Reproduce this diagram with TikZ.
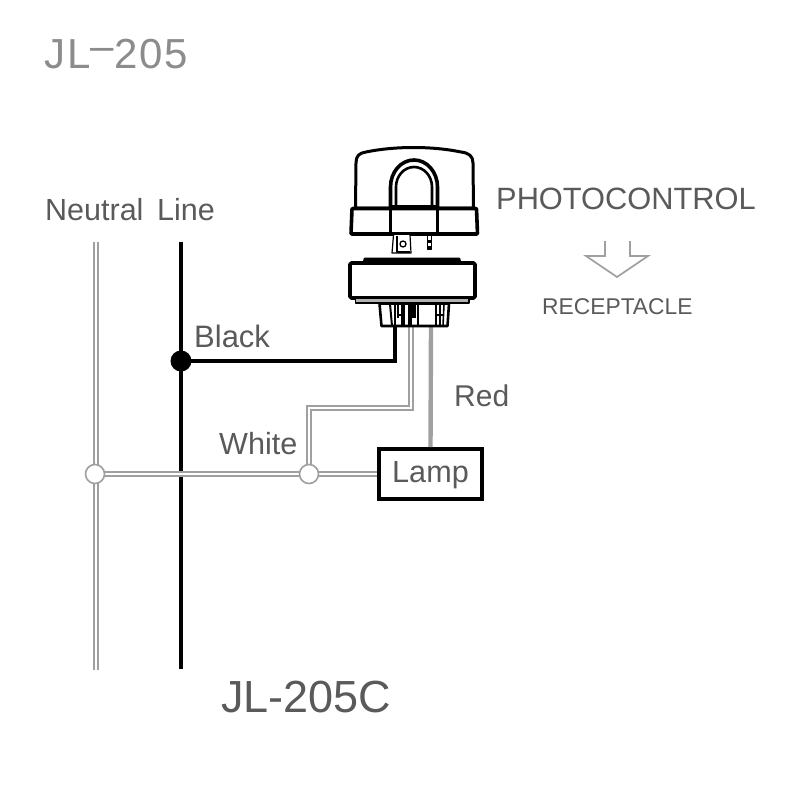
\documentclass[tikz,border=0pt]{standalone}
\usepackage{fontspec}
\setmainfont{Liberation Sans}
\newfontfamily\spaced[LetterSpace=5]{Liberation Sans}
\definecolor{txt}{HTML}{5A5A5A}
\definecolor{wire}{HTML}{A0A0A0}
\definecolor{ttl}{HTML}{8C8C8C}
\tikzset{
 lab/.style={anchor=base west,inner sep=0pt,text=txt,font=\fontsize{#1}{#1}\selectfont},
 blk/.style={draw=black,line width=#1,line join=round},
 blk/.default=3pt,
 fillw/.style={blk=#1,fill=white},
 gnode/.style={circle,draw=wire,fill=white,line width=1.6pt,minimum size=19pt,inner sep=0pt},
 bnode/.style={circle,fill=black,minimum size=21pt,inner sep=0pt},
 lampbox/.style={draw=black,line width=4pt,fill=white,minimum width=103pt,minimum height=50pt,inner sep=0pt,text=txt,font=\fontsize{30.6}{30.6}\selectfont},
}
% double wire: grey stroke with white core
\newcommand{\dblwire}[1]{\draw[wire,line width=6pt,line join=miter] #1; \draw[white,line width=2.4pt,line join=miter] #1;}
\begin{document}
\begin{tikzpicture}[x=1pt,y=-1pt]
\useasboundingbox (0,0) rectangle (800,800);
\fill[white] (0,0) rectangle (800,800);

% named points
\coordinate (nTop) at (96,242);
\coordinate (nBot) at (96,670);
\coordinate (lTop) at (181,242);
\coordinate (lBot) at (181,669);
\coordinate (blackEnd) at (395,326);
\coordinate (whiteEnd) at (411,326);
\coordinate (redEnd) at (431,326);
\coordinate (wBendA) at (411,408);
\coordinate (wBendB) at (309,408);

% neutral / line
\dblwire{(nTop) -- (nBot)}
\draw[black,line width=4pt] (lTop) -- (lBot);

% Lamp and junctions
\node[lampbox] (lamp) at (430.5,474) {};
\node[bnode] (jBlack) at (181,361) {};
\coordinate (jN) at (95,474);
\coordinate (jW) at (309,474);

% feed wires
\dblwire{(jN) -- (lamp.west)}
\dblwire{(whiteEnd) -- (wBendA) -- (wBendB) -- (jW)}
\draw[wire,line width=4.4pt] (redEnd) -- (lamp.north);
\draw[black,line width=3.6pt,line join=miter] (jBlack.center) -| (blackEnd);
\node[gnode] (nodeN) at (jN) {};
\node[gnode] (nodeW) at (jW) {};
\node[lampbox,fill=none,draw=none] (lampText) at (430.5,475) {Lamp};

% Photocontrol body
\draw[fillw=3pt] (355.5,208) -- (356,163) .. controls (356,156) and (359,153) .. (366,152)
  .. controls (395,146) and (432,146) .. (461,152)
  .. controls (469,153) and (473,156) .. (473,163) -- (473.5,208) -- cycle;
\draw[fillw=3.6pt,rounded corners=0.8pt] (352,208.5) -- (476.5,208.5) -- (477.5,234) -- (351,234) -- cycle;
% arch
\draw[blk=3.6pt] (390.5,208) -- (390.5,187) arc[start angle=180,end angle=360,x radius=23.5,y radius=27] -- (437.5,208);
\draw[blk=2.6pt] (396,207) -- (396,187) arc[start angle=180,end angle=360,x radius=18,y radius=20] -- (432,207);
\draw[black,line width=4.5pt] (390,207.5) -- (438,207.5);
\draw[blk=3.6pt] (390.5,208) -- (390.5,234);
\draw[blk=3.6pt] (437.5,208) -- (437.5,234);
% blades
\draw[blk=1.2pt,fill=white] (393.5,235) -- (392,253) -- (411,253) -- (410,235);
\draw[blk=1.6pt] (397,236) -- (397,252) -- (410,252);
\draw[blk=1.3pt] (403,244) circle[radius=3];
\draw[blk=1pt,fill=white] (427,235) rectangle (431,249);
\fill[black] (427,240) rectangle (431,243);
\fill[black] (427,246) rectangle (431,249);

% Receptacle
\fill[black,rounded corners=1pt] (362,265) -- (364,257.5) -- (460,257.5) -- (462,265) -- cycle;
\draw[fillw=3.8pt,rounded corners=1.5pt] (350,263) -- (475,263) -- (475,298) -- (350,298) -- cycle;
\draw[blk=1.5pt,fill=white!70!black] (355.5,299) -- (355.5,303) -- (469,303) -- (469,299);
\draw[blk=2.6pt,fill=white] (379.5,303.5) -- (381.5,326) -- (447.5,326) -- (449,303.5) -- cycle;
\draw[blk=2pt] (390,304) -- (392,326);
\draw[blk=2pt] (395,304) -- (395,326);
\draw[blk=1.5pt] (398,304) -- (398,318);
\draw[blk=1.5pt] (402,315) -- (398,315);
\fill[black] (401,304) rectangle (405,326);
\fill[black] (408,304) rectangle (412,326);
\fill[black] (412,304) rectangle (416,318);
\draw[blk=1.8pt] (418,304) -- (418,326);
\draw[blk=2pt] (436,304) -- (436,326);
\draw[blk=1.6pt] (440,304) -- (440,326);
\draw[blk=1.6pt] (444,304) -- (443,326);
\draw[blk=1.6pt] (436,315) -- (444,315);

% arrow
\draw[wire,line width=1.7pt,line join=miter] (605,241) -- (605,256) -- (586,256) -- (617,277) -- (648,256) -- (630,256) -- (630,241);

% Text
\node[lab=42,text=ttl] (title) at (44,68.5) {\spaced JL\raisebox{8pt}{–}205};
\node[lab=30.5] (neutral) at (45,220) {Neutral};
\node[lab=30.5] (line) at (157,220) {Line};
\node[lab=30.8] (photo) at (496,209) {PHOTOCONTROL};
\node[lab=22.8] (recept) at (542,314) {RECEPTACLE};
\node[lab=31] (black) at (194,347) {Black};
\node[lab=30] (red) at (454,406) {Red};
\node[lab=30.6] (whitel) at (219,454) {White};
\node[lab=45] (model) at (221,712) {JL-205C};
\end{tikzpicture}
\end{document}
